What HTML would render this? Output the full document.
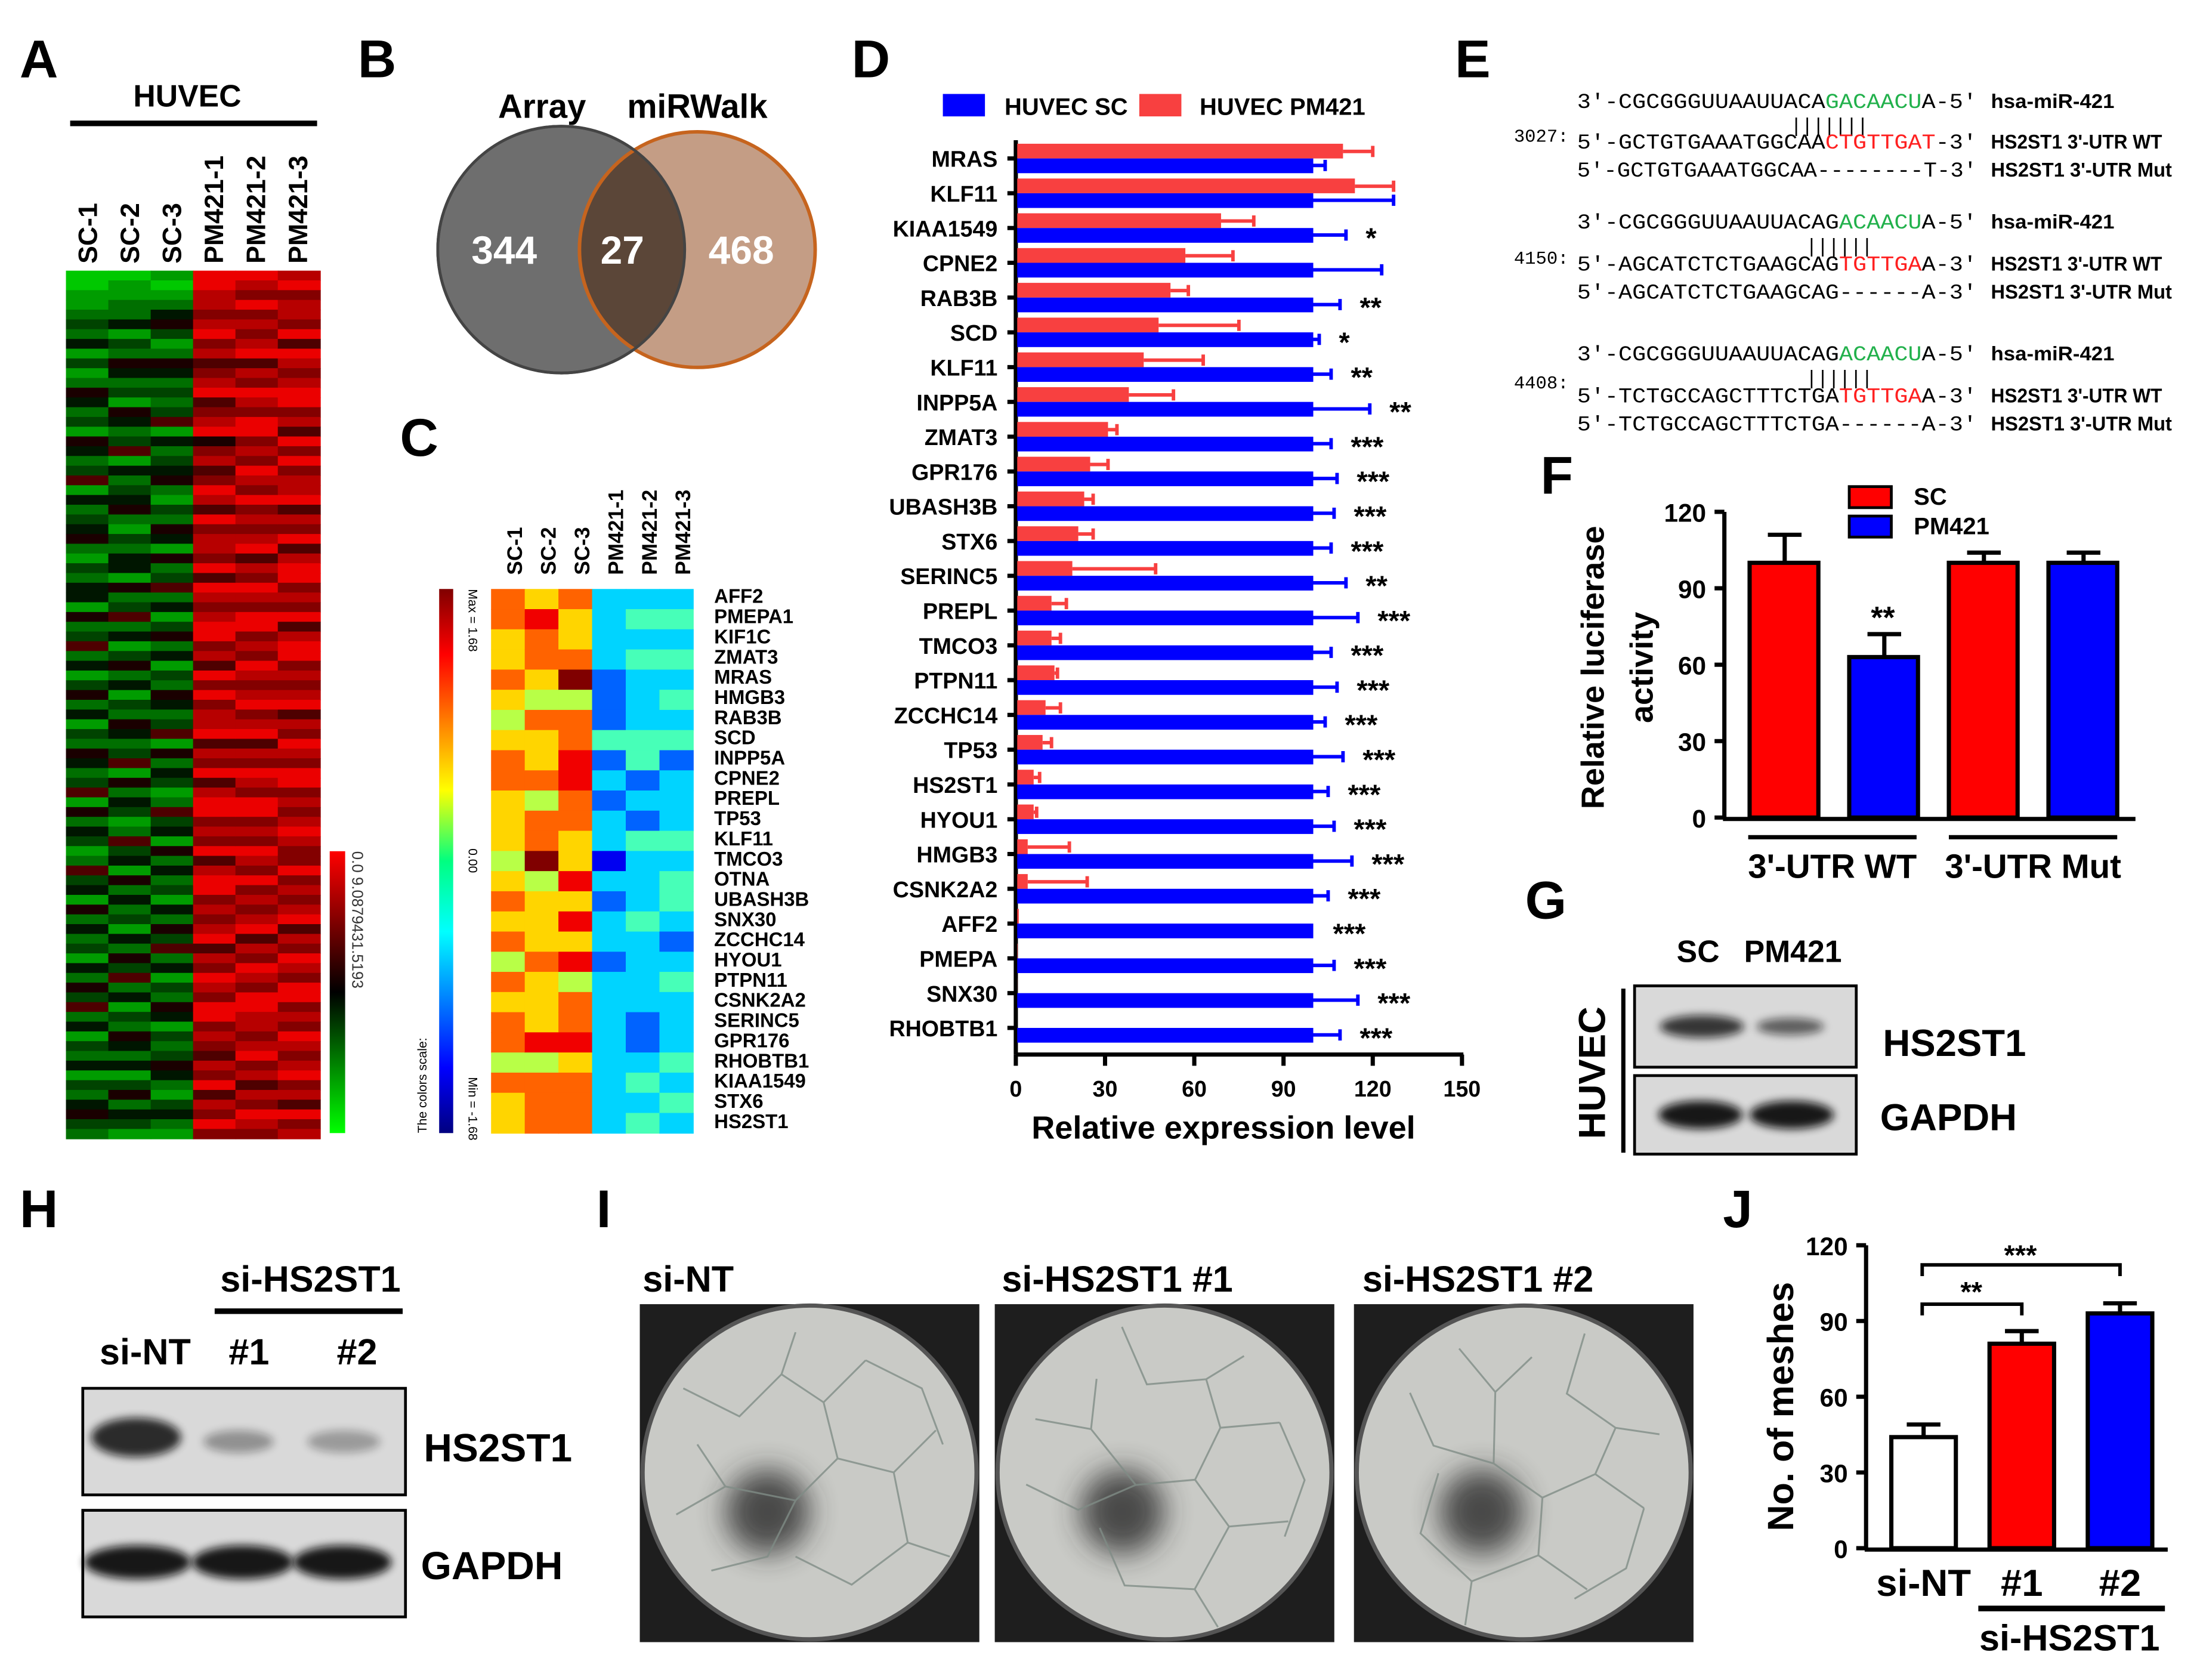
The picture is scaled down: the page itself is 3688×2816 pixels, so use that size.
<!DOCTYPE html>
<html><head><meta charset="utf-8"><style>
html,body{margin:0;padding:0;background:#fff;}
svg{display:block;font-family:"Liberation Sans",Arial,sans-serif;}
.m{font-family:"Liberation Mono",monospace;}
</style></head><body>
<svg id="fig" width="3688" height="2816" viewBox="0 0 1568 1198" preserveAspectRatio="none" xmlns="http://www.w3.org/2000/svg">
<defs>
<filter id="blur3" x="-100%" y="-100%" width="300%" height="300%"><feGaussianBlur stdDeviation="3"/></filter>
<filter id="blur6" x="-100%" y="-100%" width="300%" height="300%"><feGaussianBlur stdDeviation="10"/></filter>
<clipPath id="venclip"><circle cx="400" cy="178" r="88"/></clipPath>
</defs>
<g id="root"></g>
</svg>
<script>
// ---------- DATA ----------
const heatA = [
"00112324131254231542361423452132441523624135241325423615243126341524231425362413241324532",
"01122413254231542361423452132441523624135241325423615243126341524231425362413254241352431",
"10124531254232361423452132541523624135241325423615243126341524231425362413254132354213421",
"99887897867896789578679869788796987899786979788968796899787968997878968798799787687968797",
"98797878968798799787987978789687987997879878978968798799787987978789687987998878978687987",
"89788796987899786979788968796899787968997878968798799787898779787896879879978798789786978"];
const geneC = ["AFF2","PMEPA1","KIF1C","ZMAT3","MRAS","HMGB3","RAB3B","SCD","INPP5A","CPNE2","PREPL","TP53","KLF11","TMCO3","OTNA","UBASH3B","SNX30","ZCCHC14","HYOU1","PTPN11","CSNK2A2","SERINC5","GPR176","RHOBTB1","KIAA1549","STX6","HS2ST1"];
const heatC = [
"776676567766656767576775766",
"687765766757795666766685777",
"766795778877668686857786777",
"333322242323313233233333333",
"343433344232433343333223434",
"343434342333434432343334343"];
const genesD = ["MRAS","KLF11","KIAA1549","CPNE2","RAB3B","SCD","KLF11","INPP5A","ZMAT3","GPR176","UBASH3B","STX6","SERINC5","PREPL","TMCO3","PTPN11","ZCCHC14","TP53","HS2ST1","HYOU1","HMGB3","CSNK2A2","AFF2","PMEPA","SNX30","RHOBTB1"];
const pmD = [110,114,69,57,52,48,43,38,31,25,23,21,19,12,12,13,10,9,6,6,4,4,1,0.6,0.5,0.4];
const pmErrD = [10,13,11,16,6,27,20,15,3,6,3,5,28,5,3,1,5,3,2,1,14,20,0,0,0,0];
const scD = [100,100,100,100,100,100,100,100,100,100,100,100,100,100,100,100,100,100,100,100,100,100,100,100,100,100];
const scErrD = [4,27,11,23,9,2,6,19,6,8,7,6,11,15,6,8,4,10,5,7,13,5,0,7,15,9];
const starsD = ["","","*","","**","*","**","**","***","***","***","***","**","***","***","***","***","***","***","***","***","***","***","***","***","***"];
const ticksD = [0,30,60,90,120,150];
const catsF = ["SC","PM421","SC","PM421"];
const valsF = [100,63,100,100];
const errF = [11,9,4,4];
const ticksF = [0,30,60,90,120];
const catsJ = ["si-NT","#1","#2"];
const valsJ = [44,81,93];
const errJ = [5,5,4];
const ticksJ = [0,30,60,90,120];

const NS="http://www.w3.org/2000/svg";
const root=document.getElementById('root');
function el(tag,attrs,parent,text){const e=document.createElementNS(NS,tag);for(const k in attrs)e.setAttribute(k,attrs[k]);if(text!==undefined)e.textContent=text;(parent||root).appendChild(e);return e;}
function grp(name){const g=el('g',{});return g;}
function T(x,y,s,size,parent,extra){const a={x:x,y:y,'font-size':size};Object.assign(a,extra||{});return el('text',a,parent,s);}

// panel letters
const letters=[["A",14,55],["B",255,55],["C",285,325],["D",607,55],["E",1037,55],["F",1098,352],["G",1087,655],["H",14,875],["I",425,875],["J",1228,875]];
const gl=grp('panel-letters');
letters.forEach(l=>{const t=T(l[1],l[2],l[0],38,gl,{'font-weight':'bold'});});

// ---------- Panel A ----------
const gA=grp('panel-a-heatmap');
T(95,76,"HUVEC",22,gA,{'font-weight':'bold'});
el('line',{x1:50,y1:88,x2:226,y2:88,stroke:'#000','stroke-width':4},gA);
const colNamesA=["SC-1","SC-2","SC-3","PM421-1","PM421-2","PM421-3"];
colNamesA.forEach((n,i)=>{T(0,0,n,19,gA,{'font-weight':'bold',transform:`translate(${69+i*30},${188}) rotate(-90)`});});
function gr(v){
  const t=v/9;
  if(t<0.5){const g=Math.round(200*(1-t*2));return `rgb(0,${g},0)`;}
  const r=Math.round(235*((t-0.5)*2));return `rgb(${r},0,0)`;}
heatA.forEach((s,c)=>{const h=619/s.length;for(let r=0;r<s.length;r++){
  const rc=el('rect',{x:47+c*30.2,y:193+r*h,width:30.6,height:h+0.4,fill:gr(+s[r])},gA);
  }});
const cbA=el('linearGradient',{id:'cbA',x1:0,y1:0,x2:0,y2:1},document.querySelector('defs'));
el('stop',{offset:'0','stop-color':'#ff0000'},cbA);el('stop',{offset:'0.5','stop-color':'#000'},cbA);el('stop',{offset:'1','stop-color':'#00ff00'},cbA);
el('rect',{x:235,y:607,width:11,height:201,fill:'url(#cbA)'},gA);
T(0,0,"0.0      9.0879431.5193",11,gA,{transform:'translate(251,607) rotate(90)',fill:'#333'});

// ---------- Panel B Venn ----------
const gB=grp('panel-b-venn');
T(355,84,"Array",24,gB,{'font-weight':'bold'});
T(447,84,"miRWalk",24,gB,{'font-weight':'bold'});
el('circle',{cx:400,cy:178,r:88,fill:'#6e6e6e',stroke:'#444','stroke-width':2},gB);
el('circle',{cx:497,cy:178,r:84,fill:'#c49d85',stroke:'#c6641e','stroke-width':2.5},gB);
el('circle',{cx:497,cy:178,r:84,fill:'#5b4638',stroke:'#c6641e','stroke-width':2.5,'clip-path':'url(#venclip)'},gB);
el('circle',{cx:400,cy:178,r:88,fill:'none',stroke:'#444','stroke-width':2},gB);
T(336,188,"344",28,gB,{'font-weight':'bold',fill:'#fff'});
T(428,188,"27",28,gB,{'font-weight':'bold',fill:'#fff'});
T(505,188,"468",28,gB,{'font-weight':'bold',fill:'#fff'});

// ---------- Panel C ----------
const gC=grp('panel-c-heatmap');
colNamesA.forEach((n,i)=>{T(0,0,n,15,gC,{'font-weight':'bold',transform:`translate(${372+i*24},${410}) rotate(-90)`});});
function jet(v){const t=v/9;const f=x=>Math.round(255*Math.max(0,Math.min(1,1.5-Math.abs(x))));return `rgb(${f(4*t-3)},${f(4*t-2)},${f(4*t-1)})`;}
heatC.forEach((s,c)=>{const h=388/s.length;for(let r=0;r<s.length;r++){
  const rc=el('rect',{x:350+c*24,y:420+r*h,width:24.4,height:h+0.4,fill:jet(+s[r])},gC);
  }});
geneC.forEach((g,i)=>{T(509,430+i*14.4,g,14,gC,{'font-weight':'bold'});});
const cbC=el('linearGradient',{id:'cbC',x1:0,y1:0,x2:0,y2:1},document.querySelector('defs'));
[['0','#800000'],['0.12','#ff0000'],['0.37','#ffff00'],['0.5','#00ff80'],['0.63','#00ffff'],['0.88','#0000ff'],['1','#000080']].forEach(s=>el('stop',{offset:s[0],'stop-color':s[1]},cbC));
el('rect',{x:313,y:420,width:10,height:388,fill:'url(#cbC)'},gC);
T(0,0,"Max = 1.68",9,gC,{transform:'translate(334,420) rotate(90)'});
T(0,0,"0.00",9,gC,{transform:'translate(334,605) rotate(90)'});
T(0,0,"The colors scale:",9,gC,{transform:'translate(304,808) rotate(-90)'});
T(0,0,"Min = -1.68",9,gC,{transform:'translate(334,768) rotate(90)'});

// ---------- Panel D ----------
const gD=grp('panel-d-barchart');
const dx=v=>724+v*(318/150);
const dy=i=>113+i*24.8;
el('rect',{x:672,y:67,width:30,height:16,fill:'#0000ff'},gD);
T(716,82,"HUVEC SC",17,gD,{'font-weight':'bold'});
el('rect',{x:812,y:67,width:30,height:16,fill:'#f84040'},gD);
T(855,82,"HUVEC PM421",17,gD,{'font-weight':'bold'});
el('line',{x1:724,y1:100,x2:724,y2:752,stroke:'#000','stroke-width':3},gD);
el('line',{x1:724,y1:752,x2:1043,y2:752,stroke:'#000','stroke-width':3},gD);
ticksD.forEach(t=>{el('line',{x1:dx(t),y1:752,x2:dx(t),y2:760,stroke:'#000','stroke-width':3},gD);T(dx(t),782,String(t),16,gD,{'text-anchor':'middle','font-weight':'bold'});});
T(872,812,"Relative expression level",23,gD,{'text-anchor':'middle','font-weight':'bold'});
genesD.forEach((g,i)=>{
  const y=dy(i);
  el('line',{x1:718,y1:y,x2:724,y2:y,stroke:'#000','stroke-width':3},gD);
  T(711,y+6,g,16,gD,{'text-anchor':'end','font-weight':'bold'});
  const r=el('rect',{x:725,y:y-10.5,width:Math.max(0,dx(pmD[i])-725),height:10.5,fill:'#f84040'},gD);
  
  if(pmErrD[i]>0){el('line',{x1:dx(pmD[i]),y1:y-5,x2:dx(pmD[i]+pmErrD[i]),y2:y-5,stroke:'#f84040','stroke-width':2.5},gD);
    el('line',{x1:dx(pmD[i]+pmErrD[i]),y1:y-9,x2:dx(pmD[i]+pmErrD[i]),y2:y-1,stroke:'#f84040','stroke-width':2.5},gD);}
  const b=el('rect',{x:725,y:y,width:dx(scD[i])-725,height:10.5,fill:'#0000ff'},gD);
  
  if(scErrD[i]>0){el('line',{x1:dx(scD[i]),y1:y+5,x2:dx(scD[i]+scErrD[i]),y2:y+5,stroke:'#0000ff','stroke-width':2.5},gD);
    el('line',{x1:dx(scD[i]+scErrD[i]),y1:y+1,x2:dx(scD[i]+scErrD[i]),y2:y+9,stroke:'#0000ff','stroke-width':2.5},gD);}
  if(starsD[i])T(dx(scD[i]+scErrD[i])+14,y+14,starsD[i],20,gD,{'font-weight':'bold'});
});

// ---------- Panel E ----------
const gE=grp('panel-e-sequences');
function seq(x,y,parts){const t=el('text',{x:x,y:y,'font-size':15,class:'m',textLength:285,lengthAdjust:'spacingAndGlyphs'},gE);parts.forEach(p=>{el('tspan',{fill:p[1]||'#000'},t,p[0]);});}
const G='#22b14c',R='#ff2020';
const sets=[
 [72,"3027:",[["5'-GCTGTGAAATGGCAA"],["CTGTTGAT",R],["-3'"]],"5'-GCTGTGAAATGGCAA--------T-3'",[["3'-CGCGGGUUAAUUACA"],["GACAACU",G],["A-5'"]],1276],
 [158,"4150:",[["5'-AGCATCTCTGAAGCAG"],["TGTTGA",R],["A-3'"]],"5'-AGCATCTCTGAAGCAG------A-3'",[["3'-CGCGGGUUAAUUACAG"],["ACAACU",G],["A-5'"]],1287],
 [252,"4408:",[["5'-TCTGCCAGCTTTCTGA"],["TGTTGA",R],["A-3'"]],"5'-TCTGCCAGCTTTCTGA------A-3'",[["3'-CGCGGGUUAAUUACAG"],["ACAACU",G],["A-5'"]],1287]];
sets.forEach((s,k)=>{const y=s[0];const d=k==0?29:30;
  seq(1124,y+5,s[4]);
  T(s[5],y+22,k==0?"|||||||":"||||||",14,gE,{class:'m','letter-spacing':'-0.5'});
  T(1079,y+d+(k==2?-5:0),s[1],13,gE,{class:'m'});
  seq(1124,y+d+5,s[2]);
  seq(1124,y+d+25,[[s[3]]]);
  T(1419,y+5,"hsa-miR-421",14,gE,{'font-weight':'bold',textLength:88,lengthAdjust:'spacingAndGlyphs'});
  T(1419,y+d+5,"HS2ST1 3'-UTR WT",14,gE,{'font-weight':'bold',textLength:122,lengthAdjust:'spacingAndGlyphs'});
  T(1419,y+d+25,"HS2ST1 3'-UTR Mut",14,gE,{'font-weight':'bold',textLength:129,lengthAdjust:'spacingAndGlyphs'});
});

// ---------- Panel F ----------
const gF=grp('panel-f-barchart');
const fy=v=>583-v*(218/120);
const fx=[1247,1318,1389,1460];
el('line',{x1:1229,y1:365,x2:1229,y2:584,stroke:'#000','stroke-width':3},gF);
el('line',{x1:1228,y1:584,x2:1522,y2:584,stroke:'#000','stroke-width':3},gF);
ticksF.forEach(t=>{el('line',{x1:1222,y1:fy(t),x2:1229,y2:fy(t),stroke:'#000','stroke-width':3},gF);T(1216,fy(t)+7,String(t),18,gF,{'text-anchor':'end','font-weight':'bold'});});
T(0,0,"Relative luciferase",23,gF,{transform:'translate(1143,476) rotate(-90)','text-anchor':'middle','font-weight':'bold'});
T(0,0,"activity",23,gF,{transform:'translate(1178,476) rotate(-90)','text-anchor':'middle','font-weight':'bold'});
catsF.forEach((c,i)=>{const col=c=="SC"?'#ff0000':'#0000ff';
  el('line',{x1:fx[i]+25,y1:fy(valsF[i]),x2:fx[i]+25,y2:fy(valsF[i]+errF[i]),stroke:'#000','stroke-width':3},gF);
  el('line',{x1:fx[i]+13,y1:fy(valsF[i]+errF[i]),x2:fx[i]+37,y2:fy(valsF[i]+errF[i]),stroke:'#000','stroke-width':3},gF);
  const r=el('rect',{x:fx[i],y:fy(valsF[i]),width:49,height:583-fy(valsF[i]),fill:col,stroke:'#000','stroke-width':3},gF);
  });
T(1342,448,"**",22,gF,{'text-anchor':'middle','font-weight':'bold'});
el('rect',{x:1318,y:347,width:30,height:15,fill:'#ff0000',stroke:'#000','stroke-width':2},gF);
T(1364,360,"SC",17,gF,{'font-weight':'bold'});
el('rect',{x:1318,y:368,width:30,height:15,fill:'#0000ff',stroke:'#000','stroke-width':2},gF);
T(1364,381,"PM421",17,gF,{'font-weight':'bold'});
el('line',{x1:1246,y1:597,x2:1366,y2:597,stroke:'#000','stroke-width':3},gF);
el('line',{x1:1389,y1:597,x2:1509,y2:597,stroke:'#000','stroke-width':3},gF);
T(1306,626,"3'-UTR WT",24,gF,{'text-anchor':'middle','font-weight':'bold'});
T(1449,626,"3'-UTR Mut",24,gF,{'text-anchor':'middle','font-weight':'bold'});

// ---------- blots ----------
function blot(g,x,y,w,h,bands){el('rect',{x:x,y:y,width:w,height:h,fill:'#d9d9d9',stroke:'#000','stroke-width':2},g);
  bands.forEach(b=>el('ellipse',{cx:b[0],cy:b[1],rx:b[2],ry:b[3],fill:'#111',opacity:b[4],filter:'url(#blur3)'},g));}
const gG=grp('panel-g-blot');
T(1195,686,"SC",22,gG,{'font-weight':'bold'});T(1243,686,"PM421",22,gG,{'font-weight':'bold'});
T(0,0,"HUVEC",27,gG,{transform:'translate(1144,765) rotate(-90)','text-anchor':'middle','font-weight':'bold'});
el('line',{x1:1157,y1:705,x2:1157,y2:822,stroke:'#000','stroke-width':3},gG);
blot(gG,1165,703,158,58,[[1213,732,30,8,0.8],[1276,732,24,6,0.6]]);
blot(gG,1165,767,158,56,[[1212,795,30,10,0.95],[1277,795,30,10,0.95]]);
T(1342,753,"HS2ST1",27,gG,{'font-weight':'bold'});T(1340,806,"GAPDH",27,gG,{'font-weight':'bold'});

const gH=grp('panel-h-blot');
T(157,921,"si-HS2ST1",26,gH,{'font-weight':'bold'});
el('line',{x1:153,y1:935,x2:287,y2:935,stroke:'#000','stroke-width':4},gH);
T(71,973,"si-NT",26,gH,{'font-weight':'bold'});T(163,973,"#1",26,gH,{'font-weight':'bold'});T(240,973,"#2",26,gH,{'font-weight':'bold'});
blot(gH,59,990,230,76,[[97,1025,32,14,0.85],[170,1028,25,8,0.35],[245,1028,26,8,0.3]]);
blot(gH,59,1077,230,76,[[98,1114,38,12,0.95],[173,1114,36,12,0.95],[244,1114,35,12,0.95]]);
T(302,1042,"HS2ST1",28,gH,{'font-weight':'bold'});T(300,1126,"GAPDH",28,gH,{'font-weight':'bold'});

// ---------- Panel I ----------
const gI=grp('panel-i-images');
const net="M-90 -60 L-50 -40 L-20 -70 L10 -50 L40 -80 M-20 -70 L-10 -100 M10 -50 L20 -10 L60 0 L90 -30 M20 -10 L-10 20 L-60 10 L-95 30 M60 0 L70 50 L30 80 L-10 60 M70 50 L100 60 M-60 10 L-80 -20 M-10 20 L-30 60 L-70 70 M40 -80 L80 -60 L95 -20";
[[456,"si-NT",458],[709,"si-HS2ST1 #1",714],[965,"si-HS2ST1 #2",971]].forEach((p,k)=>{
  const x=p[0],w=242,cx=x+w/2,cy=1050;
  T(p[2],921,p[1],26,gI,{'font-weight':'bold'});
  el('rect',{x:x,y:930,width:w,height:241,fill:'#1e1e1e'},gI);
  el('circle',{cx:cx,cy:cy,r:118,fill:'#c9cac6'},gI);
  el('circle',{cx:cx-30,cy:cy+28,r:30,fill:'#2a2a2a',opacity:0.8,filter:'url(#blur6)'},gI);
  el('path',{d:net,transform:`translate(${cx},${cy}) rotate(${k*40})`,fill:'none',stroke:'#7f8c86','stroke-width':1.3,opacity:0.8},gI);
  el('circle',{cx:cx,cy:cy,r:119,fill:'none',stroke:'#555','stroke-width':3},gI);
});

// ---------- Panel J ----------
const gJ=grp('panel-j-barchart');
const jy=v=>1104-v*(216/120);
const jx=[1348,1418,1488];const jc=['#ffffff','#ff0000','#0000ff'];
el('line',{x1:1330,y1:888,x2:1330,y2:1105,stroke:'#000','stroke-width':3},gJ);
el('line',{x1:1329,y1:1105,x2:1545,y2:1105,stroke:'#000','stroke-width':3},gJ);
ticksJ.forEach(t=>{el('line',{x1:1323,y1:jy(t),x2:1330,y2:jy(t),stroke:'#000','stroke-width':3},gJ);T(1317,jy(t)+7,String(t),18,gJ,{'text-anchor':'end','font-weight':'bold'});});
T(0,0,"No. of meshes",26,gJ,{transform:'translate(1278,1003) rotate(-90)','text-anchor':'middle','font-weight':'bold'});
catsJ.forEach((c,i)=>{
  el('line',{x1:jx[i]+23,y1:jy(valsJ[i]),x2:jx[i]+23,y2:jy(valsJ[i]+errJ[i]),stroke:'#000','stroke-width':3},gJ);
  el('line',{x1:jx[i]+11,y1:jy(valsJ[i]+errJ[i]),x2:jx[i]+35,y2:jy(valsJ[i]+errJ[i]),stroke:'#000','stroke-width':3},gJ);
  const r=el('rect',{x:jx[i],y:jy(valsJ[i]),width:46,height:1104-jy(valsJ[i]),fill:jc[i],stroke:'#000','stroke-width':3},gJ);
  
  T(jx[i]+23,1138,c,27,gJ,{'text-anchor':'middle','font-weight':'bold'});});
el('path',{d:'M1370 938 V930 H1441 V938',fill:'none',stroke:'#000','stroke-width':2.5},gJ);
T(1405,928,"**",20,gJ,{'text-anchor':'middle','font-weight':'bold'});
el('path',{d:'M1370 910 V902 H1511 V910',fill:'none',stroke:'#000','stroke-width':2.5},gJ);
T(1440,902,"***",20,gJ,{'text-anchor':'middle','font-weight':'bold'});
el('line',{x1:1410,y1:1147,x2:1543,y2:1147,stroke:'#000','stroke-width':4},gJ);
T(1475,1177,"si-HS2ST1",26,gJ,{'text-anchor':'middle','font-weight':'bold'});
</script>
</body></html>
